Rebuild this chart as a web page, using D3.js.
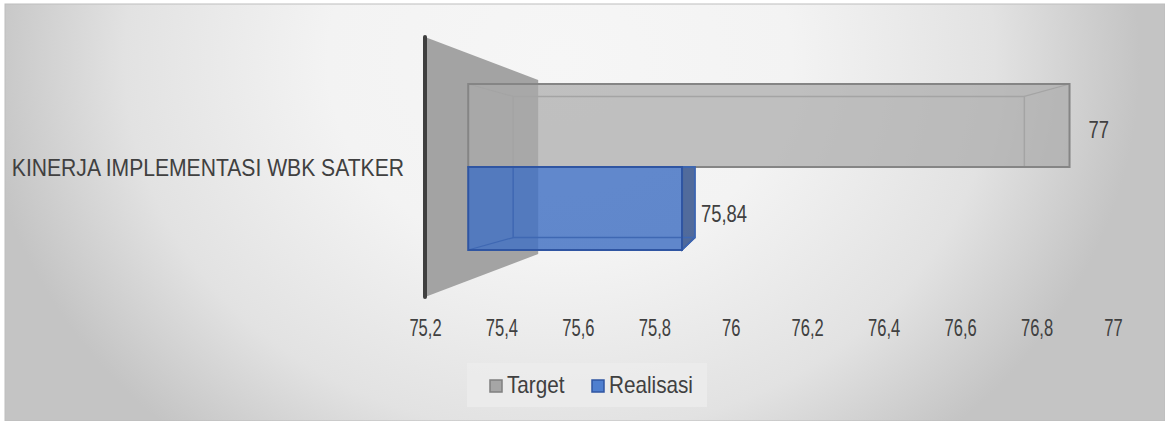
<!DOCTYPE html>
<html lang="id">
<head>
  <meta charset="utf-8">
  <title>Kinerja Implementasi WBK Satker</title>
  <script src="https://d3js.org/d3.v7.min.js"></script>
  <style>
    body { margin: 0; background: #fff; }
    svg text { font-family: "Liberation Sans", Arial, sans-serif; fill: #404040; }
  </style>
</head>
<body>
<svg id="chart" width="1165" height="421"></svg>
<script>
  // Données
  const categories = ["KINERJA IMPLEMENTASI WBK SATKER"];
  const series = ["Target", "Realisasi"];
  const targetValues = [77];
  const realisasiValues = [75.84];
  const tickValues = [75.2, 75.4, 75.6, 75.8, 76, 76.2, 76.4, 76.6, 76.8, 77];
  const tickLabels = ["75,2", "75,4", "75,6", "75,8", "76", "76,2", "76,4", "76,6", "76,8", "77"];
  const dataLabels = ["77", "75,84"];

  const svg = d3.select("#chart");

  // fond (dégradé radial)
  const defs = svg.append("defs");
  const grad = defs.append("radialGradient")
      .attr("id", "bg")
      .attr("gradientUnits", "userSpaceOnUse")
      .attr("cx", 560).attr("cy", 60).attr("r", 580)
      .attr("gradientTransform", "translate(560,60) scale(1,0.86) translate(-560,-60)");
  grad.append("stop").attr("offset", "0").attr("stop-color", "#f6f6f6");
  grad.append("stop").attr("offset", "0.4").attr("stop-color", "#f3f3f3");
  grad.append("stop").attr("offset", "0.75").attr("stop-color", "#e2e2e2");
  grad.append("stop").attr("offset", "1").attr("stop-color", "#c4c4c4");

  svg.append("rect")
      .attr("x", 5).attr("y", 4).attr("width", 1160).attr("height", 417)
      .attr("fill", "url(#bg)")
      .attr("stroke", "#bdbdbd").attr("stroke-width", 1);

  // échelles
  const x = d3.scaleLinear().domain([75.2, 77]).range([425, 1113]);
  const yCat = d3.scaleBand().domain(categories).range([37, 297]);
  const ySer = d3.scaleBand().domain(series).range([72, 262]);

  // perspective
  const vp = [768, 167];
  const sNear = 0.874, sBack = 0.743, sWallBack = 0.67;
  function P(v, yy, s) {
    return [vp[0] + s * (x(v) - vp[0]), vp[1] + s * (yy - vp[1])];
  }
  const line = d3.line();

  // texte "étroit" : police plus grande compressée horizontalement
  function narrowText(parent, tx, ty, size, sx, anchor, str) {
    return parent.append("g")
        .attr("transform", `translate(${tx},${ty}) scale(${sx},1)`)
        .append("text")
        .attr("text-anchor", anchor)
        .attr("font-size", size)
        .text(str);
  }

  const base = x.domain()[0];
  const cat = categories[0];

  // mur (plan de base)
  const w0 = yCat(cat), w1 = yCat(cat) + yCat.bandwidth();
  svg.append("path")
      .attr("d", line([P(base, w0, 1), P(base, w0, sWallBack), P(base, w1, sWallBack), P(base, w1, 1)]) + "Z")
      .attr("fill", "#a3a3a3");
  svg.append("line")
      .attr("x1", x(base)).attr("x2", x(base))
      .attr("y1", w0).attr("y2", w1)
      .attr("stroke", "#3f3f3f").attr("stroke-width", 4)
      .attr("stroke-linecap", "round");

  // barres 3D
  const bars = [
    { name: "Target", value: targetValues[0], face: "rgba(170,170,170,0.72)", side: "rgba(150,150,150,0.6)", edge: "#858585", inner: "#a4a4a4" },
    { name: "Realisasi", value: realisasiValues[0], face: "rgba(68,114,196,0.84)", side: "rgba(52,82,140,0.85)", edge: "#2f55a2", inner: "#3f68b3" }
  ];

  bars.forEach((b, i) => {
    const t = ySer(b.name), bt = ySer(b.name) + ySer.bandwidth();
    const nTL = P(base, t, sNear), nTR = P(b.value, t, sNear),
          nBR = P(b.value, bt, sNear), nBL = P(base, bt, sNear);
    const bTL = P(base, t, sBack), bTR = P(b.value, t, sBack),
          bBR = P(b.value, bt, sBack), bBL = P(base, bt, sBack);
    const g = svg.append("g");

    // face de bout (droite) si visible
    if (bTR[0] > nTR[0]) {
      g.append("path")
          .attr("d", line([nTR, bTR, bBR, nBR]) + "Z")
          .attr("fill", b.side).attr("stroke", b.edge).attr("stroke-width", 1.5);
    }
    // face avant
    g.append("path")
        .attr("d", line([nTL, nTR, nBR, nBL]) + "Z")
        .attr("fill", b.face);
    // arêtes arrière
    g.append("path")
        .attr("d", line([bTL, bTR, bBR, bBL]) + "Z")
        .attr("fill", "none").attr("stroke", b.inner).attr("stroke-width", 1.5);
    // arêtes de profondeur
    [[nTL, bTL], [nTR, bTR], [nBR, bBR], [nBL, bBL]].forEach(seg => {
      g.append("path").attr("d", line(seg))
          .attr("fill", "none").attr("stroke", b.inner).attr("stroke-width", 1.2);
    });
    // contour face avant
    g.append("path")
        .attr("d", line([nTL, nTR, nBR, nBL]) + "Z")
        .attr("fill", "none").attr("stroke", b.edge).attr("stroke-width", 2);

    // étiquette
    narrowText(svg, nTR[0] + 19, (nTR[1] + nBR[1]) / 2 + 13, 23, 0.8, "start", dataLabels[i]);
  });

  // étiquette de catégorie
  narrowText(svg, 404, yCat(cat) + yCat.bandwidth() / 2 + 9, 24, 0.88, "end", cat);

  // axe des valeurs
  const axis = d3.axisBottom(x)
      .tickValues(tickValues)
      .tickFormat((d, i) => tickLabels[i])
      .tickSize(0).tickPadding(0);
  const ax = svg.append("g").attr("transform", "translate(0,336)").call(axis);
  ax.select(".domain").remove();
  ax.selectAll("text")
      .attr("font-size", 24).attr("font-family", null).attr("fill", "#404040")
      .attr("y", 0).attr("dy", 0)
      .attr("transform", "scale(0.69,1)");

  // légende
  const legend = svg.append("g");
  legend.append("rect").attr("x", 467).attr("y", 363).attr("width", 240).attr("height", 44)
      .attr("fill", "#ececec").attr("opacity", 0.8);
  const legItems = [
    { name: series[0], fill: "#a6a6a6", stroke: "#7f7f7f", x: 490 },
    { name: series[1], fill: "#4f7fcf", stroke: "#2f55a2", x: 592 }
  ];
  legItems.forEach(d => {
    legend.append("rect").attr("x", d.x).attr("y", 380).attr("width", 12).attr("height", 12)
        .attr("fill", d.fill).attr("stroke", d.stroke).attr("stroke-width", 1.5);
    narrowText(legend, d.x + 17, 393, 23, 0.9, "start", d.name);
  });
</script>
</body>
</html>
